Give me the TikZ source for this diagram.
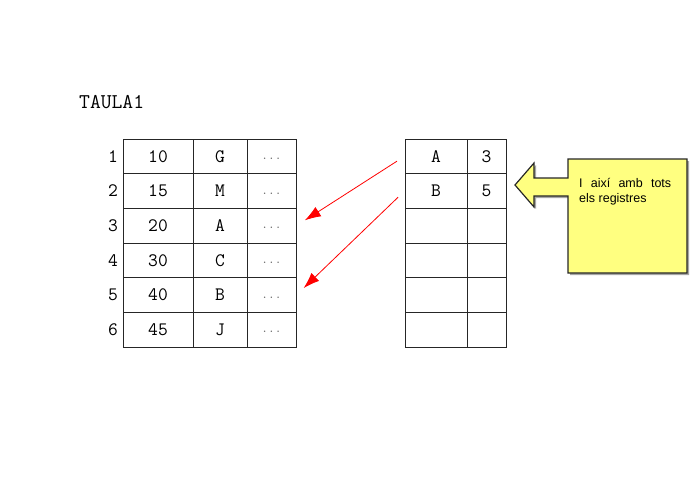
\documentclass[tikz,border=0pt]{standalone}
\usepackage{fontspec}
\setsansfont{Liberation Sans}
\usetikzlibrary{arrows.meta}
\definecolor{notefill}{HTML}{FFFF80}

\begin{document}
\begin{tikzpicture}[x=1pt,y=-1pt,
    cell/.style={draw=black!85,line width=0.9pt,inner sep=0pt,minimum height=34.7pt,
      font=\fontsize{19}{19}\ttfamily},
    wkey/.style={cell,minimum width=70pt},
    wval/.style={cell,minimum width=54pt},
    wdot/.style={cell,minimum width=49pt,font=\fontsize{13}{13}\ttfamily\color{black!60}},
    wa/.style={cell,minimum width=62pt},
    wb/.style={cell,minimum width=39pt},
    rnum/.style={anchor=east,inner sep=0pt,font=\fontsize{19}{19}\ttfamily},
    link/.style={red,line width=0.8pt,-{Latex[length=16pt,width=11pt]},
      shorten <=9pt,shorten >=10pt}]
  \useasboundingbox (0,0) rectangle (700,492);
  \node[anchor=west,inner sep=0pt,font=\fontsize{21}{21}\ttfamily] (title) at (79,102) {TAULA1};
  \node[rnum] (r1) at (118,156.3) {1};
  \node[rnum] (r2) at (118,191.0) {2};
  \node[rnum] (r3) at (118,225.7) {3};
  \node[rnum] (r4) at (118,260.3) {4};
  \node[rnum] (r5) at (118,295.0) {5};
  \node[rnum] (r6) at (118,329.7) {6};
  \node[wkey] (k1) at (158,156.3) {10};
  \node[wkey] (k2) at (158,191.0) {15};
  \node[wkey] (k3) at (158,225.7) {20};
  \node[wkey] (k4) at (158,260.3) {30};
  \node[wkey] (k5) at (158,295.0) {40};
  \node[wkey] (k6) at (158,329.7) {45};
  \node[wval] (v1) at (220,156.3) {G};
  \node[wval] (v2) at (220,191.0) {M};
  \node[wval] (v3) at (220,225.7) {A};
  \node[wval] (v4) at (220,260.3) {C};
  \node[wval] (v5) at (220,295.0) {B};
  \node[wval] (v6) at (220,329.7) {J};
  \node[wdot] (d1) at (271.5,156.3) {\raisebox{-6pt}{...}};
  \node[wdot] (d2) at (271.5,191.0) {\raisebox{-6pt}{...}};
  \node[wdot] (d3) at (271.5,225.7) {\raisebox{-6pt}{...}};
  \node[wdot] (d4) at (271.5,260.3) {\raisebox{-6pt}{...}};
  \node[wdot] (d5) at (271.5,295.0) {\raisebox{-6pt}{...}};
  \node[wdot] (d6) at (271.5,329.7) {\raisebox{-6pt}{...}};
  \node[wa] (a1) at (436,156.3) {A};
  \node[wa] (a2) at (436,191.0) {B};
  \node[wa] (a3) at (436,225.7) {};
  \node[wa] (a4) at (436,260.3) {};
  \node[wa] (a5) at (436,295.0) {};
  \node[wa] (a6) at (436,329.7) {};
  \node[wb] (b1) at (486.5,156.3) {3};
  \node[wb] (b2) at (486.5,191.0) {5};
  \node[wb] (b3) at (486.5,225.7) {};
  \node[wb] (b4) at (486.5,260.3) {};
  \node[wb] (b5) at (486.5,295.0) {};
  \node[wb] (b6) at (486.5,329.7) {};
  \draw[link] (a1.west) -- (d3.east);
  \draw[link] (a2.west) -- (d5.east);
  \fill[black!35] (689,161) -- (570,161) -- (570,180) -- (536,180) -- (536,165)
    -- (517,187) -- (536,209) -- (536,198) -- (570,198) -- (570,275)
    -- (689,275) -- cycle;
  \draw[fill=notefill,draw=black!85,line width=1.2pt] (687,159) -- (568,159)
    -- (568,178) -- (534,178) -- (534,163) -- (515,185) -- (534,207)
    -- (534,196) -- (568,196) -- (568,273) -- (687,273) -- cycle;
  \node[anchor=north west,inner sep=0pt,align=left,
    font=\fontsize{12.5}{15}\sffamily] (note) at (579,178)
    {\makebox[92pt][s]{I així amb tots}\\els registres};
\end{tikzpicture}
\end{document}
